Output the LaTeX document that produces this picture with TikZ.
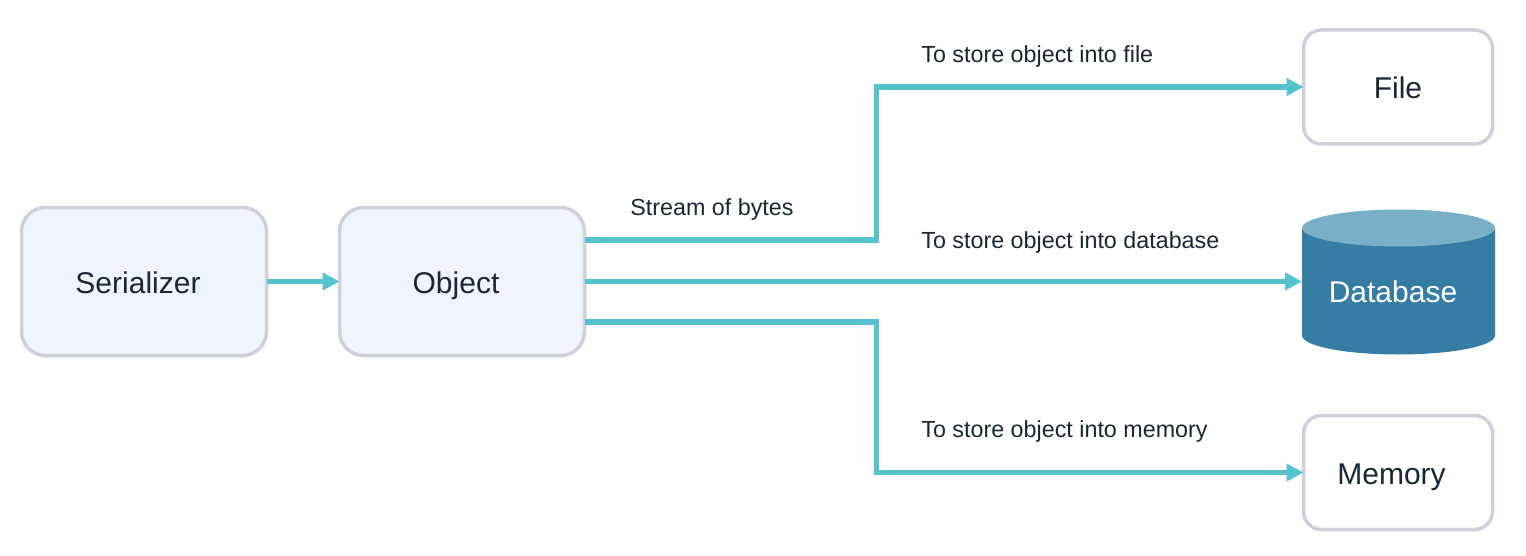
\documentclass[tikz,border=0pt]{standalone}
\usepackage{fontspec}
\setmainfont{Liberation Sans}
\usepackage{xcolor}
\definecolor{boxfill}{HTML}{F0F4FE}
\definecolor{boxline}{HTML}{D0CFDC}
\definecolor{flowcyan}{HTML}{56C2CE}
\definecolor{inkdark}{HTML}{1A2636}
\definecolor{dbbody}{HTML}{367CA3}
\definecolor{dbtop}{HTML}{79B0C8}
\usetikzlibrary{arrows.meta}

\begin{document}
\begin{tikzpicture}[
            x=0.5pt, y=-0.5pt,
            block/.style={draw=boxline, line width=1.75pt, fill=boxfill, text=inkdark, rectangle, rounded corners=12pt, font=\fontsize{15}{18}\selectfont, text height=11.5pt, text depth=0pt, outer sep=0pt},
            bigblock/.style={block, minimum width=122.5pt, minimum height=74pt},
            store/.style={block, fill=white, rounded corners=9pt, minimum width=94.5pt, minimum height=57pt},
            flow/.style={-{Triangle[length=8.5pt,width=8.5pt]}, flowcyan, line width=2.9pt},
            note/.style={anchor=west, inner sep=0pt, text=inkdark, font=\fontsize{11.65}{14}\selectfont},
        ]
            \useasboundingbox (0,0) rectangle (1526,556);
            \node [bigblock] (serializer) at (144,281.5) {Serializer\kern6pt};
            \node [bigblock] (object) at (462,281.5) {Object\kern6pt};
            \node [store] (file) at (1398,87) {File};
            \node [store] (memory) at (1398,472.5) {Memory\kern6.5pt};
            \node [minimum width=96.5pt, minimum height=72.5pt, inner sep=0pt, outer sep=0pt] (database) at (1398.5,282) {};
            \fill [dbbody] ([yshift=-9.25pt]database.north west) -- ([yshift=9.5pt]database.south west)
                arc [start angle=180, end angle=360, x radius=48.25pt, y radius=9.5pt]
                -- ([yshift=-9.25pt]database.north east) -- cycle;
            \fill [dbtop] ([yshift=-9.25pt]database.north) ellipse [x radius=48.25pt, y radius=9.25pt];
            \node [text=white, font=\fontsize{15}{18}\selectfont] (dblabel) at (1393,292) {Database};

            \draw [flow] (serializer.east) -- (object.west);
            \draw [flow] ([yshift=20.75pt]object.east) -- ++(292,0) |- (file.west);
            \draw [flow] (object.east) -- (database.west |- object.east);
            \draw [flow] ([yshift=-20.25pt]object.east) -- ++(292,0) |- (memory.west);

            \node [note] (bytes) at (630,209) {Stream of bytes};
            \node [note] (tofile) at (921,56) {To store object into file};
            \node [note] (todb) at (921,242) {To store object into database};
            \node [note] (tomem) at (921,431) {To store object into memory};
        \end{tikzpicture}
\end{document}
